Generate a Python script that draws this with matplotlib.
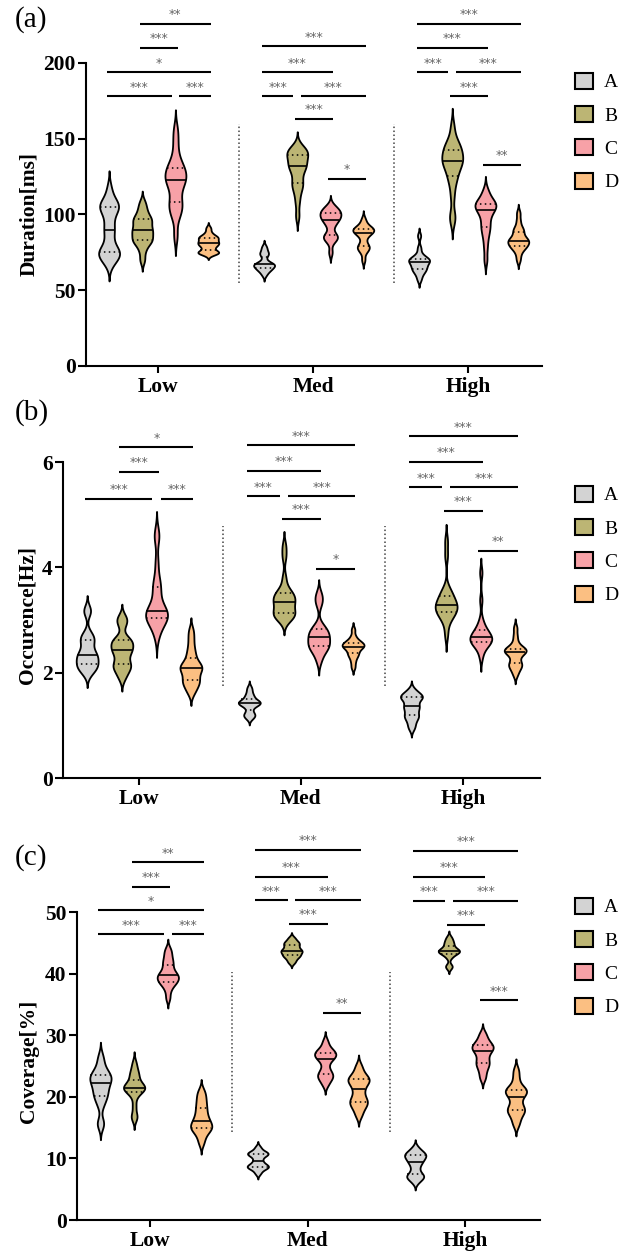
import numpy as np
import matplotlib.pyplot as plt
from matplotlib.patches import Patch

plt.rcParams['font.family'] = ['Liberation Serif', 'DejaVu Serif']

W, H = 635, 1253
levels = ['Low', 'Med', 'High']
groups = ['A', 'B', 'C', 'D']
colors = ['#d3d3d3', '#bcb574', '#f7a1a7', '#fbbf82']

# ---- Duration [ms] : one list per group (A, B, C, D) ----
dur_low = [
    [68, 71, 73, 74, 75, 76, 78, 84, 89, 91, 96, 101, 104, 105, 106, 107, 110, 117],
    [70, 76, 80, 82, 83, 84, 86, 88, 89, 90, 92, 94, 96, 97, 98, 101, 104, 108],
    [86, 98, 102, 105, 107, 110, 115, 119, 121, 123, 124, 126, 128, 130, 132, 134, 140, 148, 156],
    [74, 74.5, 75, 75, 76, 78, 79, 80, 81, 81, 82, 83, 84, 85, 85, 86, 88, 91],
]
dur_med = [
    [60, 62, 63, 64, 64.5, 65, 66, 66.5, 67, 67, 67.5, 68, 70, 73, 74, 75, 77, 79],
    [99, 108, 114, 118, 120, 122, 126, 129, 131, 132, 133, 135, 137, 139, 140, 141, 142, 143, 145],
    [75, 82, 84, 85, 86, 87, 92, 94, 96, 97, 98, 99, 100, 101, 102, 103, 104, 106],
    [70, 75, 77, 78, 79, 80, 83, 86, 87, 88, 89, 89.5, 90, 90.5, 91, 92, 94, 97],
]
dur_high = [
    [57, 60, 62, 63, 64, 65, 66, 67, 68, 69, 69.5, 70, 70.5, 71, 72, 74, 78, 86],
    [96, 100, 112, 120, 124, 127, 130, 133, 134, 135, 136, 138, 140, 142, 143, 145, 147, 150, 158],
    [70, 78, 84, 88, 91, 93, 96, 99, 101, 103, 104, 105, 106, 107, 107.5, 108, 110, 113, 116],
    [70, 74, 77, 78, 79, 80, 81, 82, 82.5, 83, 84, 85, 87, 89, 90, 92, 96, 101],
]

# ---- Occurence [Hz] ----
occ_low = [
    [1.98, 2.05, 2.1, 2.12, 2.15, 2.2, 2.25, 2.3, 2.33, 2.35, 2.4, 2.5, 2.6, 2.63, 2.68, 2.75, 3.15, 3.2],
    [1.9, 2.0, 2.08, 2.12, 2.15, 2.2, 2.3, 2.38, 2.42, 2.44, 2.5, 2.55, 2.6, 2.62, 2.65, 2.9, 3.0, 3.05],
    [2.7, 2.85, 2.95, 3.0, 3.02, 3.05, 3.1, 3.12, 3.15, 3.18, 3.2, 3.3, 3.45, 3.6, 3.65, 3.8, 4.1, 4.55, 4.65],
    [1.62, 1.7, 1.78, 1.82, 1.85, 1.9, 1.98, 2.03, 2.07, 2.1, 2.12, 2.15, 2.2, 2.3, 2.38, 2.5, 2.65, 2.8],
]
occ_med = [
    [1.13, 1.17, 1.2, 1.22, 1.28, 1.35, 1.38, 1.4, 1.41, 1.43, 1.44, 1.45, 1.47, 1.5, 1.55, 1.58, 1.65, 1.72],
    [3.0, 3.05, 3.08, 3.1, 3.12, 3.15, 3.2, 3.28, 3.32, 3.35, 3.38, 3.42, 3.46, 3.5, 3.52, 3.6, 3.8, 4.2, 4.4],
    [2.22, 2.35, 2.42, 2.46, 2.5, 2.53, 2.56, 2.6, 2.65, 2.7, 2.72, 2.75, 2.8, 2.85, 2.9, 3.3, 3.4, 3.5],
    [2.1, 2.2, 2.28, 2.33, 2.36, 2.4, 2.44, 2.47, 2.49, 2.5, 2.52, 2.54, 2.55, 2.57, 2.6, 2.63, 2.7, 2.82],
]
occ_high = [
    [0.94, 1.02, 1.1, 1.15, 1.18, 1.22, 1.28, 1.33, 1.36, 1.38, 1.45, 1.5, 1.52, 1.54, 1.56, 1.58, 1.62, 1.68],
    [2.72, 2.95, 3.05, 3.1, 3.14, 3.17, 3.2, 3.24, 3.27, 3.29, 3.32, 3.36, 3.42, 3.48, 3.52, 3.6, 4.22, 4.5],
    [2.3, 2.45, 2.52, 2.55, 2.57, 2.6, 2.62, 2.64, 2.66, 2.68, 2.7, 2.74, 2.78, 2.82, 2.88, 3.0, 3.38, 3.9],
    [1.96, 2.05, 2.1, 2.14, 2.17, 2.2, 2.28, 2.34, 2.37, 2.4, 2.42, 2.43, 2.44, 2.46, 2.5, 2.58, 2.7, 2.85],
]

# ---- Coverage [%] ----
cov_low = [
    [15.3, 16, 18.5, 19.5, 20, 20.5, 21, 21.5, 22, 22.4, 22.8, 23, 23.3, 23.6, 24, 24.5, 25.5, 26.6],
    [16.5, 17, 18.5, 20, 20.8, 21, 21.2, 21.4, 21.5, 21.7, 21.9, 22.2, 22.8, 23.4, 23.8, 24.5, 25.5],
    [36, 37.2, 38, 38.4, 38.6, 38.9, 39.2, 39.4, 39.6, 39.8, 40.1, 40.5, 41, 41.6, 42, 42.6, 43.3, 44],
    [12.5, 13.5, 14.2, 14.6, 14.9, 15.1, 15.4, 15.7, 16.1, 16.5, 17, 17.6, 18.2, 18.8, 19.5, 20.2, 21],
]
cov_med = [
    [7.6, 8.2, 8.5, 8.6, 8.7, 8.9, 9.2, 9.6, 10.1, 10.5, 10.7, 10.8, 10.9, 11.2, 11.8],
    [41.8, 42.3, 42.7, 42.9, 43.1, 43.4, 43.6, 43.7, 43.9, 44.2, 44.5, 44.8, 45, 45.3, 45.8],
    [22, 22.8, 23.2, 23.5, 23.9, 24.5, 25.5, 26.2, 26.4, 26.7, 27, 27.2, 27.5, 28, 29],
    [17, 18, 18.6, 19, 19.4, 19.8, 20.6, 21.3, 22, 22.4, 22.7, 23, 23.3, 24, 25],
]
cov_high = [
    [6.2, 6.8, 7.0, 7.2, 7.6, 8.3, 9.0, 9.4, 9.8, 10.1, 10.4, 10.6, 10.8, 11.1, 11.7],
    [41, 41.3, 42.6, 43.1, 43.3, 43.5, 43.6, 43.7, 43.8, 44, 44.3, 44.7, 45, 45.4, 45.9],
    [23, 24, 24.8, 25.3, 25.7, 26.3, 26.9, 27.4, 27.7, 28, 28.2, 28.5, 28.9, 29.5, 30.3],
    [15.5, 16.5, 17.3, 17.7, 18, 18.4, 19.2, 20, 20.5, 20.8, 21, 21.3, 21.8, 23, 24.3],
]

# ---- significance brackets: (group i, group j, height, label) ----
dur_sig_low = [(0, 2, 178, '***'), (2, 3, 178, '***'), (0, 3, 194, '*'), (1, 2, 210, '***'), (1, 3, 226, '**')]
dur_sig_med = [(0, 1, 178, '***'), (1, 3, 178, '***'), (1, 2, 163, '***'), (0, 2, 194, '***'),
               (0, 3, 211, '***'), (2, 3, 123.5, '*')]
dur_sig_high = [(0, 1, 194, '***'), (1, 3, 194, '***'), (1, 2, 178, '***'), (0, 2, 210, '***'),
                (0, 3, 226, '***'), (2, 3, 133, '**')]

occ_sig_low = [(0, 2, 5.30, '***'), (2, 3, 5.30, '***'), (1, 2, 5.81, '***'), (1, 3, 6.28, '*')]
occ_sig_med = [(0, 1, 5.35, '***'), (1, 3, 5.35, '***'), (1, 2, 4.92, '***'), (0, 2, 5.83, '***'),
               (0, 3, 6.32, '***'), (2, 3, 3.97, '*')]
occ_sig_high = [(0, 1, 5.52, '***'), (1, 3, 5.52, '***'), (1, 2, 5.07, '***'), (0, 2, 6.0, '***'),
                (0, 3, 6.49, '***'), (2, 3, 4.31, '**')]

cov_sig_low = [(0, 2, 46.4, '***'), (2, 3, 46.4, '***'), (0, 3, 50.3, '*'), (1, 2, 54.1, '***'), (1, 3, 58.1, '**')]
cov_sig_med = [(0, 1, 51.9, '***'), (1, 3, 51.9, '***'), (1, 2, 48.1, '***'), (0, 2, 55.7, '***'),
               (0, 3, 60.1, '***'), (2, 3, 33.6, '**')]
cov_sig_high = [(0, 1, 51.8, '***'), (1, 3, 51.8, '***'), (1, 2, 47.9, '***'), (0, 2, 55.7, '***'),
                (0, 3, 59.9, '***'), (2, 3, 35.7, '***')]

panels = [
    dict(tag='(a)', ylabel='Duration[ms]', data=[dur_low, dur_med, dur_high],
         sig=[dur_sig_low, dur_sig_med, dur_sig_high], ylim=200, yticks=[0, 50, 100, 150, 200],
         px=(86, 542, 366, 63), sep=(55, 160), tagpos=(31, 20), ylab_px=(29, 214), leg_y=132),
    dict(tag='(b)', ylabel='Occurence[Hz]', data=[occ_low, occ_med, occ_high],
         sig=[occ_sig_low, occ_sig_med, occ_sig_high], ylim=6, yticks=[0, 2, 4, 6],
         px=(63, 540, 778, 462), sep=(1.75, 4.78), tagpos=(32, 413), ylab_px=(28, 615), leg_y=545),
    dict(tag='(c)', ylabel='Coverage[%]', data=[cov_low, cov_med, cov_high],
         sig=[cov_sig_low, cov_sig_med, cov_sig_high], ylim=50, yticks=[0, 10, 20, 30, 40, 50],
         px=(77, 540, 1220, 912), sep=(14.3, 40.3), tagpos=(31, 858), ylab_px=(29, 1061), leg_y=957),
]

offsets = [-0.318, -0.104, 0.11, 0.322]
vwidth = 0.135


def kde_stats(vals, bw=0.3, ext=2.5):
    v = np.asarray(vals, float)
    h = bw * v.std(ddof=1)
    coords = np.linspace(v.min() - ext * h, v.max() + ext * h, 300)
    dens = np.exp(-0.5 * ((coords[:, None] - v[None, :]) / h) ** 2).sum(axis=1)
    q1, med, q3 = np.percentile(v, [25, 50, 75])
    return dict(coords=coords, vals=dens, mean=v.mean(), median=med,
                min=v.min(), max=v.max(), quantiles=[]), (q1, med, q3)


fig = plt.figure(figsize=(W / 100, H / 100), dpi=100)

for p in panels:
    left, right, y0, ytop = p['px']
    ax = fig.add_axes([left / W, 1 - y0 / H, (right - left) / W, (y0 - ytop) / H])
    for li, lev in enumerate(levels):
        for gi in range(4):
            st, (q1, med, q3) = kde_stats(p['data'][li][gi])
            pos = li + offsets[gi]
            parts = ax.violin([st], positions=[pos], widths=vwidth,
                              showmeans=False, showextrema=False, showmedians=False)
            for b in parts['bodies']:
                b.set_facecolor(colors[gi])
                b.set_edgecolor('black')
                b.set_linewidth(1.3)
                b.set_alpha(1)
            dmax = st['vals'].max()
            for yv, ls, lw in [(med, '-', 1.2), (q1, (0, (1, 2.2)), 1.1), (q3, (0, (1, 2.2)), 1.1)]:
                hw = 0.5 * vwidth * np.interp(yv, st['coords'], st['vals']) / dmax
                ax.plot([pos - hw, pos + hw], [yv, yv], color='black', lw=lw, ls=ls,
                        solid_capstyle='butt')
        # brackets
        sig = p['sig'][li]
        for (i, j, yb, lab) in sig:
            x0 = li + offsets[i] - 0.015
            x1 = li + offsets[j] + 0.015
            for (i2, j2, y2, _) in sig:
                if y2 == yb and (i2, j2) != (i, j):
                    if i2 == j:
                        x1 = li + offsets[j] - 0.025
                    if j2 == i:
                        x0 = li + offsets[i] + 0.025
            ax.plot([x0, x1], [yb, yb], color='black', lw=1.5, clip_on=False,
                    solid_capstyle='butt')
            ax.annotate(lab, xy=((x0 + x1) / 2, yb), xytext=(0, 4.0), textcoords='offset points',
                        ha='center', va='baseline', fontsize=9, color='#666666',
                        family='DejaVu Sans', annotation_clip=False)
    # dotted separators
    for xs in (0.52, 1.52):
        ax.plot([xs, xs], list(p['sep']), color='#444444', lw=1.1, ls=(0, (1, 1.6)))

    ax.set_xlim(-0.467, 2.475)
    ax.set_ylim(0, p['ylim'])
    ax.set_xticks(range(3))
    ax.set_xticklabels(levels, fontsize=15.5, fontweight='bold')
    ax.set_yticks(p['yticks'])
    ax.set_yticklabels([str(t) for t in p['yticks']], fontsize=15.5, fontweight='bold')
    for s in ('top', 'right'):
        ax.spines[s].set_visible(False)
    for s in ('left', 'bottom'):
        ax.spines[s].set_linewidth(1.5)
    ax.tick_params(axis='y', length=6, width=1.5, pad=1.5)
    ax.tick_params(axis='x', length=5, width=1.5, pad=3)

    fig.text(p['ylab_px'][0] / W, 1 - p['ylab_px'][1] / H, p['ylabel'], rotation=90,
             ha='center', va='center', fontsize=15.5, fontweight='bold')
    fig.text(p['tagpos'][0] / W, 1 - p['tagpos'][1] / H, p['tag'], ha='center', va='center',
             fontsize=21)

    handles = [Patch(facecolor=c, edgecolor='black', linewidth=1.5) for c in colors]
    ax.legend(handles, groups, loc='center left', bbox_to_anchor=(575 / W, 1 - p['leg_y'] / H),
              bbox_transform=fig.transFigure, frameon=False, fontsize=14,
              handlelength=0.9, handleheight=0.9, labelspacing=0.75, handletextpad=0.6,
              borderpad=0, borderaxespad=0)

fig.savefig('out.png', dpi=100)
